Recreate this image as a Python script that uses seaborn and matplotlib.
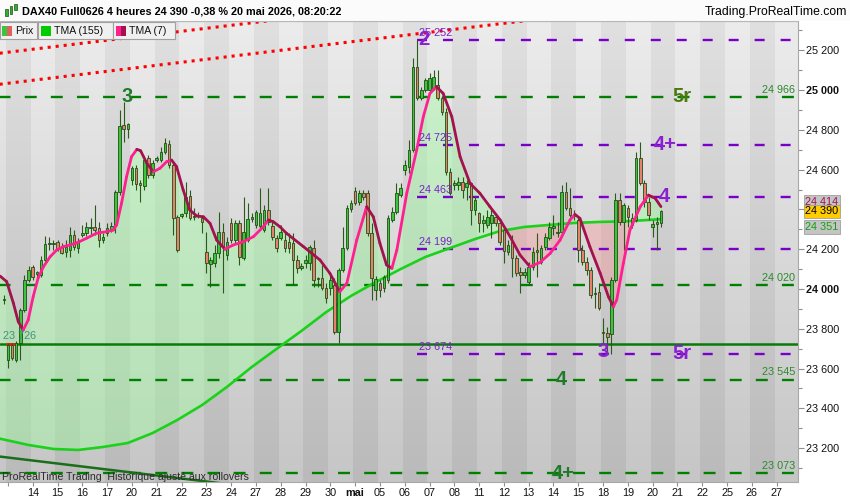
import numpy as np
import matplotlib
matplotlib.use("Agg")
import matplotlib.pyplot as plt
import matplotlib.transforms as mtransforms
from matplotlib.patches import Rectangle
from matplotlib.lines import Line2D
import seaborn as sns

# ── data (4h candles, DAX40 future) ────────────────────────────────
opens = [23945, 23643, 23719, 23643, 23729, 23895, 24045, 24111, 24075, 24070,
         24146, 24226, 24226, 24236, 24211, 24186, 24196, 24271, 24206, 24271,
         24281, 24307, 24312, 24307, 24246, 24281, 24302, 24322, 24487, 24824,
         24804, 24548, 24608, 24533, 24518, 24658, 24573, 24648, 24648, 24688,
         24729, 24623, 24362, 24367, 24382, 24467, 24362, 24367, 24357, 24186,
         24126, 24131, 24181, 24287, 24171, 24332, 24246, 24332, 24156, 24246,
         24352, 24322, 24317, 24297, 24397, 24317, 24256, 24256, 24246, 24236,
         24231, 24146, 24106, 24131, 24131, 24206, 24050, 24055, 24005, 24005,
         24020, 23784, 24096, 24206, 24402, 24492, 24437, 24482, 24482, 24281,
         23995, 24030, 24005, 24045, 24347, 24387, 24473, 24598, 24613, 24698,
         25115, 24960, 25000, 25000, 25010, 25025, 24960, 24890, 24588, 24523,
         24523, 24538, 24513, 24533, 24397, 24382, 24332, 24322, 24332, 24362,
         24332, 24297, 24186, 24236, 24156, 24085, 24070, 24035, 24111, 24186,
         24136, 24211, 24256, 24307, 24281, 24287, 24487, 24407, 24367, 24347,
         24196, 24136, 24096, 23975, 23985, 23784, 23779, 23774, 24045, 24447,
         24337, 24407, 24357, 24347, 24658, 24533, 24437, 24312, 24327, 24332]
highs = [23970, 23729, 23729, 23739, 23905, 24070, 24116, 24121, 24091, 24166,
         24266, 24261, 24246, 24246, 24231, 24246, 24312, 24297, 24256, 24322,
         24337, 24357, 24422, 24337, 24281, 24332, 24337, 24498, 24900, 24940,
         24834, 24618, 24623, 24548, 24658, 24673, 24648, 24668, 24714, 24759,
         24749, 24633, 24372, 24382, 24538, 24498, 24407, 24387, 24367, 24287,
         24161, 24221, 24387, 24332, 24261, 24357, 24347, 24347, 24462, 24432,
         24382, 24397, 24508, 24422, 24508, 24337, 24271, 24322, 24287, 24281,
         24281, 24171, 24131, 24171, 24221, 24246, 24060, 24121, 24030, 24070,
         24055, 24106, 24312, 24422, 24447, 24513, 24498, 24498, 24498, 24332,
         24065, 24045, 24070, 24372, 24412, 24533, 24533, 24648, 24749, 25161,
         25252, 25015, 25060, 25085, 25100, 25100, 24970, 24910, 24608, 24548,
         24563, 24563, 24548, 24538, 24462, 24387, 24372, 24397, 24407, 24382,
         24347, 24317, 24246, 24271, 24171, 24111, 24106, 24136, 24211, 24281,
         24221, 24281, 24337, 24372, 24337, 24523, 24538, 24508, 24397, 24362,
         24221, 24161, 24111, 24010, 24030, 23854, 23809, 24060, 24482, 24482,
         24432, 24422, 24382, 24688, 24739, 24548, 24462, 24347, 24362, 24397]
lows = [23925, 23603, 23643, 23633, 23643, 23885, 24035, 24045, 24060, 24060,
        24136, 24196, 24196, 24191, 24176, 24161, 24161, 24196, 24181, 24261,
        24266, 24271, 24271, 24211, 24231, 24266, 24287, 24281, 24473, 24739,
        24759, 24523, 24498, 24437, 24498, 24558, 24558, 24638, 24638, 24678,
        24608, 24271, 24186, 24357, 24362, 24347, 24347, 24357, 24281, 24080,
        24010, 24111, 24156, 23980, 24146, 24231, 24226, 24121, 24146, 24236,
        24337, 24307, 24297, 24287, 24322, 24246, 24186, 24246, 24186, 24181,
        24020, 24080, 24096, 24106, 24096, 24010, 24010, 23995, 23930, 23970,
        23774, 23729, 24085, 24196, 24387, 24422, 24422, 24447, 24266, 23945,
        23945, 23960, 23985, 24030, 24337, 24377, 24462, 24573, 24583, 24688,
        24950, 24950, 24990, 24990, 25000, 24950, 24874, 24573, 24473, 24498,
        24498, 24457, 24447, 24322, 24372, 24287, 24287, 24307, 24256, 24317,
        24221, 24131, 24171, 24060, 24065, 23980, 24055, 24020, 24096, 24060,
        24126, 24196, 24246, 24271, 24261, 24276, 24397, 24362, 24347, 24136,
        24121, 24070, 23955, 23905, 23895, 23729, 23684, 23674, 24035, 24322,
        24196, 24312, 24307, 24337, 24523, 24412, 24347, 24261, 24196, 24312]
closes = [23950, 23719, 23653, 23729, 23895, 24045, 24096, 24060, 24085, 24146,
          24226, 24231, 24228, 24206, 24181, 24211, 24271, 24211, 24241, 24281,
          24312, 24310, 24297, 24246, 24261, 24307, 24317, 24487, 24819, 24804,
          24829, 24608, 24528, 24523, 24648, 24573, 24633, 24658, 24688, 24734,
          24623, 24357, 24196, 24377, 24462, 24357, 24367, 24372, 24337, 24131,
          24146, 24181, 24287, 24211, 24236, 24246, 24332, 24161, 24287, 24352,
          24362, 24387, 24382, 24397, 24337, 24261, 24206, 24287, 24206, 24206,
          24146, 24106, 24116, 24146, 24211, 24045, 24055, 24005, 23955, 24045,
          23784, 24096, 24206, 24407, 24432, 24432, 24482, 24462, 24281, 24055,
          24050, 23995, 24060, 24357, 24387, 24482, 24508, 24623, 24698, 25115,
          24960, 25000, 25050, 25060, 25065, 24960, 24890, 24588, 24482, 24533,
          24538, 24498, 24533, 24397, 24447, 24332, 24347, 24362, 24372, 24332,
          24236, 24191, 24221, 24156, 24080, 24070, 24085, 24111, 24186, 24196,
          24206, 24261, 24312, 24317, 24287, 24487, 24407, 24372, 24377, 24196,
          24136, 24096, 23970, 23980, 23905, 23779, 23759, 24045, 24447, 24337,
          24422, 24362, 24322, 24658, 24533, 24437, 24372, 24327, 24337, 24390]

# TMA (155), read once per day
tma155_idx = [-1, 6, 12, 18, 24, 30, 36, 42, 48, 54, 60, 66, 72, 78, 84, 90,
              96, 102, 108, 114, 120, 126, 132, 138, 144, 150, 156, 159]
tma155_val = [23248, 23216, 23196, 23191, 23206, 23226, 23276, 23342, 23417,
              23508, 23608, 23699, 23789, 23884, 23965, 24035, 24100, 24161,
              24206, 24251, 24291, 24312, 24322, 24332, 24337, 24340, 24347,
              24351]

# TMA (7)
tma7_idx = [-0.9, 0.7, 2.3, 3.5, 4.7, 5.9, 7.1, 8.3, 9.6, 11.2, 12.8, 14.4,
            16.0, 17.6, 20.1, 22.5, 24.9, 26.5, 27.3, 28.5, 29.7, 30.9, 32.2,
            33.1, 34.6, 36.2, 37.8, 39.4, 40.6, 41.8, 43.4, 45.0, 46.7, 48.3,
            49.9, 51.5, 53.5, 55.5, 58.0, 60.4, 62.8, 64.0, 65.2, 66.8, 68.4,
            72.5, 76.5, 78.9, 81.3, 83.0, 85.4, 87.8, 89.4, 91.0, 92.6, 93.9,
            95.1, 97.5, 99.9, 101.5, 103.1, 104.7, 106.3, 108.4, 110.4, 112.8,
            115.2, 117.6, 120.1, 122.5, 124.9, 127.3, 129.7, 132.2, 134.6,
            137.0, 138.2, 139.4, 141.8, 144.3, 146.3, 147.5, 148.3, 149.9,
            151.5, 154.0, 156.0, 157.6, 159.0]
tma7_val = [24065, 24037, 23930, 23836, 23794, 23844, 23961, 24055, 24112,
            24162, 24196, 24213, 24221, 24231, 24256, 24281, 24288, 24296,
            24322, 24432, 24564, 24665, 24702, 24695, 24632, 24589, 24607,
            24640, 24648, 24615, 24498, 24397, 24367, 24363, 24330, 24246,
            24200, 24221, 24238, 24263, 24313, 24347, 24338, 24313, 24280,
            24213, 24146, 24079, 23986, 24029, 24246, 24414, 24363, 24230,
            24121, 24104, 24196, 24481, 24699, 24866, 24983, 25017, 24983,
            24866, 24665, 24531, 24481, 24414, 24347, 24263, 24171, 24112,
            24133, 24179, 24246, 24347, 24375, 24355, 24213, 24079, 23961,
            23911, 23945, 24129, 24297, 24414, 24472, 24456, 24414]

# one tick per trading day (first 4h bar of the day)
day_labels = ["", "14", "15", "16", "17", "20", "21", "22", "23", "24", "27",
              "28", "29", "30", "mai", "05", "06", "07", "08", "11", "12", "13",
              "14", "15", "18", "19", "20", "21", "22", "25", "26", "27"]

# drawn levels
purple_levels = [25252, 24725, 24463, 24199, 23674]
purple_from = 100
green_levels = [24966, 24020, 23545, 23073]
support_level = 23726

# trend lines (bar index, price)
red_a_idx, red_a_val = [-1, 70], [25185, 25363]
red_b_idx, red_b_val = [-1, 130], [25029, 25358]
dkgreen_idx, dkgreen_val = [-1, 56], [23158, 23015]

# wave counts: text, bar index, price, colour group
wave_text = ["3", "2", "5r", "4+", "4", "3", "5r", "4", "4+"]
wave_idx = [29.8, 101.7, 164, 160, 159.8, 145, 164, 134.8, 135.3]
wave_price = [24966, 25252, 24966, 24725, 24463, 23684, 23674, 23545, 23073]
wave_group = ["g", "p", "o", "p", "p", "p", "p", "g", "g"]

# ── setup ──────────────────────────────────────────────────────────
sns.set_theme(style="white")
plt.rcParams["font.family"] = ["Liberation Sans", "DejaVu Sans"]
plt.rcParams["lines.scale_dashes"] = False

W, H = 850, 500
def fx(px):
    return px / W
def fy(py):
    return 1 - py / H

PURPLE = "#7800c8"
GREEN = "#008000"
PINK = "#ff2090"
MAROON = "#a3124e"
LIME = "#19d219"

fig = plt.figure(figsize=(8.5, 5), dpi=100, facecolor="white")
ax = fig.add_axes([0, fy(482), fx(798), (482 - 21) / H])

x_lo, x_hi = -0.92, 192.16
y_lo, y_hi = 23030, 25347
ax.set_xlim(x_lo, x_hi)
ax.set_ylim(y_lo, y_hi)

# ── background: vertical gradient with one stripe per day ─────────
t = np.linspace(0, 1, 460)[:, None]
light = 236 - 38 * t
dark = 224 - 38 * t
is_light = np.array([k % 2 == 1 for k in range(-1, 33)])
img = np.where(is_light[None, :], light, dark) / 255.0
img = np.repeat(img[:, :, None], 3, axis=2)
ax.imshow(img, extent=[-5.5, 198.5, y_lo, y_hi], aspect="auto",
          origin="upper", interpolation="nearest", zorder=0)

# ── fill between the two averages ─────────────────────────────────
grid = np.linspace(tma7_idx[0], tma7_idx[-1], 3000)
a = np.interp(grid, tma7_idx, tma7_val)
b = np.interp(grid, tma155_idx, tma155_val)
ax.fill_between(grid, a, b, where=a >= b, interpolate=True,
                color="#a0ffa0", alpha=0.42, lw=0, zorder=1)
ax.fill_between(grid, a, b, where=a < b, interpolate=True,
                color="#ff8c8c", alpha=0.33, lw=0, zorder=1)

# ── levels ─────────────────────────────────────────────────────────
for lv in green_levels:
    ax.plot([x_lo, x_hi], [lv, lv], color=GREEN, lw=1.7,
            ls=(1, (8.6, 10.2)), dash_capstyle="butt", zorder=2)
for lv in purple_levels:
    ax.plot([purple_from, x_hi], [lv, lv], color=PURPLE, lw=1.7,
            ls=(0, (7.2, 11.5)), dash_capstyle="butt", zorder=2)
ax.axhline(support_level, color="#0a7a0a", lw=1.8, zorder=2)
ax.plot([0.8, 2.7], [support_level, support_level], color="#ff1010",
        lw=1.8, zorder=2)

# trend lines
ax.plot(red_a_idx, red_a_val, color="#ff0000", lw=2.2,
        ls=(0, (2.2, 3.6)), dash_capstyle="butt", zorder=3)
ax.plot(red_b_idx, red_b_val, color="#ff0000", lw=2.2,
        ls=(0, (2.2, 3.6)), dash_capstyle="butt", zorder=3)
ax.plot(dkgreen_idx, dkgreen_val, color="#1a6e1a", lw=1.8, zorder=3)

# ── TMA 155 ────────────────────────────────────────────────────────
sns.lineplot(x=tma155_idx, y=tma155_val, ax=ax, color=LIME, lw=1.9,
             zorder=3)

# ── candles ────────────────────────────────────────────────────────
o = np.array(opens)
hi = np.array(highs)
lo = np.array(lows)
c = np.array(closes)
idx = np.arange(len(o))
up = c >= o
ax.vlines(idx, lo, hi, color="#2a5a1a", lw=0.8, zorder=4)
ax.bar(idx, np.maximum(np.abs(c - o), 5), bottom=np.minimum(o, c),
       width=0.62, color=np.where(up, "#3cc43c", "#e8806e"),
       edgecolor="#1f4f14", linewidth=0.6, zorder=5)

# ── TMA 7 (pink rising, maroon falling) ────────────────────────────
for j in range(len(tma7_idx) - 1):
    col = PINK if tma7_val[j + 1] >= tma7_val[j] else MAROON
    ax.plot(tma7_idx[j:j + 2], tma7_val[j:j + 2], color=col, lw=2.0,
            solid_capstyle="round", zorder=6)

# ── level labels ───────────────────────────────────────────────────
blend = mtransforms.blended_transform_factory(ax.transAxes, ax.transData)
for lv in purple_levels:
    ax.annotate(f"{lv:,}".replace(",", " "), xy=(purple_from + 0.4, lv),
                xytext=(0, 1.5), textcoords="offset points", fontsize=7.8,
                color="#7a1fc8", ha="left", va="bottom", zorder=7)
for lv in green_levels:
    ax.annotate(f"{lv:,}".replace(",", " "), xy=(0.9962, lv),
                xycoords=blend, xytext=(0, 1.5), textcoords="offset points",
                fontsize=7.8, color="#2a8a2a", ha="right", va="bottom",
                zorder=7)
ax.annotate(f"{support_level:,}".replace(",", " "), xy=(0.004, support_level),
            xycoords=blend, xytext=(0, 2), textcoords="offset points",
            fontsize=7.8, color="#3c9678", ha="left", va="bottom", zorder=7)

wave_colors = {"g": "#1f7a2a", "p": "#8a1fd0", "o": "#4a7a10"}
for txt, xi, pv, g in zip(wave_text, wave_idx, wave_price, wave_group):
    ax.text(xi, pv, txt, fontsize=14.5, fontweight="bold",
            color=wave_colors[g], ha="center", va="center", zorder=8)

# ── axes ───────────────────────────────────────────────────────────
ax.set_xticks([1 + 6 * k for k in range(len(day_labels))])
ax.set_xticklabels(day_labels)
for lab in ax.get_xticklabels():
    if lab.get_text() == "mai":
        lab.set_fontweight("bold")
ax.tick_params(axis="x", bottom=True, length=3, width=0.8, color="#909090",
               labelsize=7.8, pad=1.5, labelcolor="#111111")

yt = list(range(23200, 25201, 200))
ax.yaxis.tick_right()
ax.set_yticks(yt)
ax.set_yticklabels(["" if v == 24400 else f"{v:,}".replace(",", " ")
                    for v in yt])
for lab in ax.get_yticklabels():
    if lab.get_text() in ("25 000", "24 000"):
        lab.set_fontweight("bold")
ax.set_yticks(list(range(23100, 25301, 100)), minor=True)
ax.tick_params(axis="y", which="major", right=True, length=4, width=0.8,
               color="#909090", labelsize=7.8, pad=2, labelcolor="#111111")
ax.tick_params(axis="y", which="minor", right=True, length=3, width=0.8,
               color="#909090")
ax.grid(False)
for side in ["left"]:
    ax.spines[side].set_visible(False)
for side in ["right", "bottom", "top"]:
    ax.spines[side].set_color("#a8a8a8")
    ax.spines[side].set_linewidth(0.8)

# price tags on the right axis
tags = [(tma7_val[-1], MAROON, "#c4c4c4", 3.3),
        (closes[-1], "#000000", "#ffcc00", 0),
        (tma155_val[-1], "#10a010", "#c4c4c4", -5.6)]
for val, tc, fc, dy in tags:
    ax.annotate(f"{val:,}".replace(",", " "), xy=(1, val), xycoords=blend,
                xytext=(5.2, dy), textcoords="offset points", fontsize=7.8,
                color=tc, ha="left", va="center", annotation_clip=False,
                bbox=dict(boxstyle="square,pad=0.15", fc=fc, ec="#a0a0a0",
                          lw=0.6), zorder=10)

# ── header, legend, watermark ──────────────────────────────────────
fig.add_artist(Rectangle((0, fy(20.5)), 1, 20.5 / H, transform=fig.transFigure,
                         fc="#fbfbfb", ec="none", zorder=1))
fig.add_artist(Line2D([0, fx(798)], [fy(20.5), fy(20.5)],
                      transform=fig.transFigure, color="#b8b8b8", lw=0.8))
# small candle icon
for x0, y0, hgt, col in [(5, 9, 7, "#30b030"), (9.5, 6, 8, "#30b030"),
                         (14, 4, 6, "#30b030")]:
    fig.add_artist(Rectangle((fx(x0), fy(y0 + hgt)), 2.5 / W, hgt / H,
                             transform=fig.transFigure, fc=col,
                             ec="#1f4f14", lw=0.5, zorder=2))
fig.text(fx(22.5), fy(11.5),
         "DAX40 Full0626 4 heures 24 390 -0,38 % 20 mai 2026, 08:20:22",
         fontsize=7.8, fontweight="bold", color="#000000", va="center")
fig.text(fx(847), fy(12), "Trading.ProRealTime.com", fontsize=8.8,
         color="#000000", ha="right", va="center")

legend_boxes = [(0, 37, "Prix", [("#3cc43c", 2, 5), ("#e06060", 7, 5)]),
                (37.5, 113, "TMA (155)", [("#00cc00", 41, 10)]),
                (113.5, 175, "TMA (7)", [(PINK, 116, 5), (MAROON, 121, 5)])]
for x0, x1, txt, sw in legend_boxes:
    fig.add_artist(Rectangle((fx(x0), fy(39)), (x1 - x0) / W, 17 / H,
                             transform=fig.transFigure, fc="#f0f0f0",
                             ec="#a0a0a0", lw=0.8, zorder=4))
    for col, sx, sw_w in sw:
        fig.add_artist(Rectangle((fx(sx), fy(36)), sw_w / W, 10 / H,
                                 transform=fig.transFigure, fc=col,
                                 ec="none", zorder=5))
    fig.text(fx(sw[-1][1] + sw[-1][2] + 3), fy(30.5), txt, fontsize=7.6,
             color="#111111", va="center", zorder=6)

fig.text(fx(2.5), fy(476.5),
         "ProRealTime Trading  Historique ajusté aux rollovers",
         fontsize=7.6, color="#2a2a2a", va="center", zorder=6)

fig.savefig("out.png", dpi=100, facecolor="white")
